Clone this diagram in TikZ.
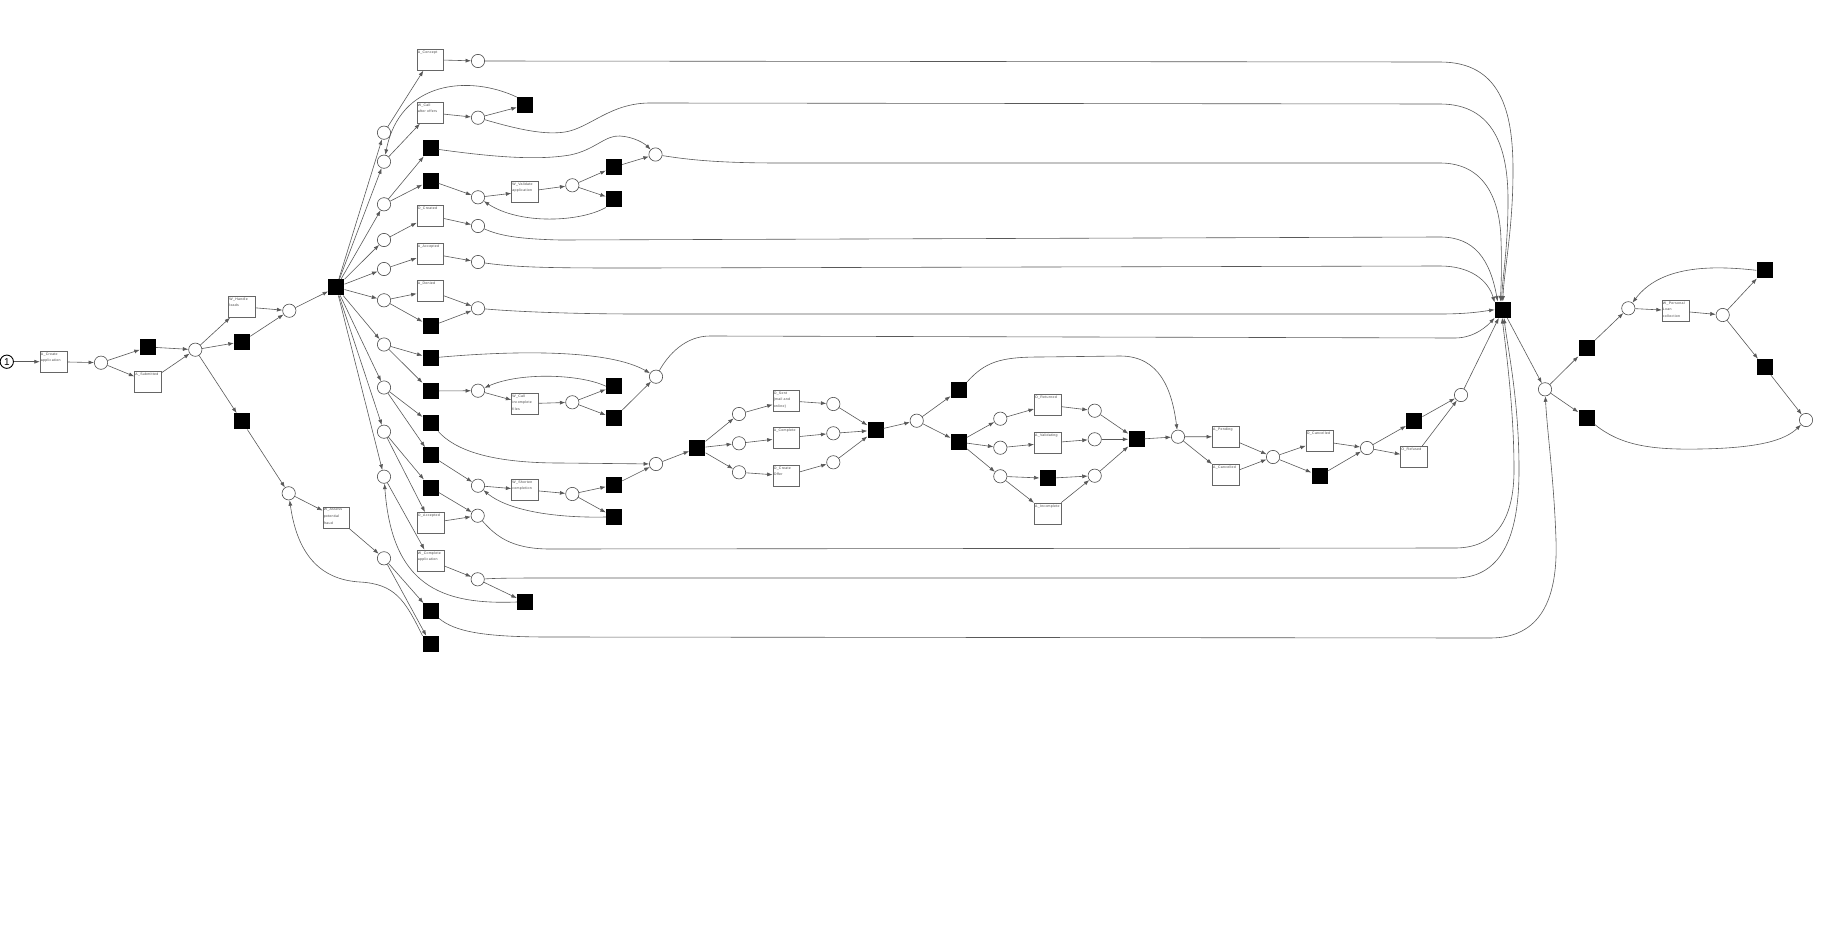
\documentclass[tikz,border=0pt]{standalone}
\usepackage{fontspec}
\newfontfamily\lblfam[LetterSpace=8]{Liberation Sans}
\newfontfamily\tokfam{Liberation Sans}
\newcommand\lblf{\lblfam\fontsize{3.5pt}{6.6pt}\selectfont}
\usetikzlibrary{arrows.meta}
\begin{document}
\begin{tikzpicture}[x=1pt,y=-1pt,
 pl/.style={circle,draw=black!70,line width=0.6pt,fill=white,minimum size=13.3pt,inner sep=0pt},
 bt/.style={rectangle,fill=black,minimum size=16pt,inner sep=0pt},
 trn/.style={rectangle,draw=black!60,line width=0.6pt,fill=white,minimum width=26.7pt,minimum height=21.3pt,inner sep=0pt,
   label={[anchor=north west,inner sep=0pt,xshift=0.9pt,yshift=-1.8pt,align=left,font=\lblf,text=black!75]north west:#1}},
 flow/.style={draw=black!65,line width=0.6pt,-{Latex[length=5.5pt,width=4pt]}}]
\useasboundingbox (0,0) rectangle (1834,926);
% ---------- left part
\node[pl,draw=black,line width=0.9pt] (p0) at (6.8,361.7) {\tokfam\fontsize{10pt}{10pt}\selectfont 1};
\node[trn={A\_Create\\application}] (tCreate) at (53.5,361.7) {};
\node[pl] (p1) at (101,362.7) {};
\node[bt] (b1) at (148,347) {};
\node[trn={A\_Submitted}] (tSub) at (148,382) {};
\node[pl] (p2) at (195.3,349.7) {};
\node[trn={W\_Handle\\leads}] (tHandle) at (242,306.7) {};
\node[bt] (b2) at (242,341.7) {};
\node[bt] (b3) at (242,421.3) {};
\node[pl] (p3) at (289.3,310.7) {};
\node[bt] (hub) at (336.3,287.3) {};
\node[pl] (pc1) at (384,132.7) {};
\node[pl] (pc2) at (384,161.7) {};
\node[pl] (pc3) at (384,204.3) {};
\node[pl] (pc4) at (384,240) {};
\node[pl] (pc5) at (384,269) {};
\node[pl] (pc6) at (384,300.3) {};
\node[pl] (pc7) at (384,344.5) {};
\node[pl] (pc8) at (384,387.5) {};
\node[pl] (pc9) at (384,431.7) {};
\node[pl] (pc10) at (384,476.7) {};
\node[pl] (pFraud) at (288.7,493.3) {};
\node[trn={W\_Assess\\potential\\fraud}] (tAssess) at (336.3,517.5) {};
\node[pl] (pA) at (384,558.3) {};
\node[bt] (bF1) at (430.7,611.3) {};
\node[bt] (bF2) at (430.7,644) {};
% column of branches
\node[trn={A\_Concept}] (tConcept) at (430.3,59.7) {};
\node[pl] (pConcept) at (478,61) {};
\node[trn={W\_Call\\after offers}] (tCallOff) at (430.3,112.7) {};
\node[pl] (pCallOff) at (478,117.7) {};
\node[bt] (bCallOff) at (525,105.3) {};
\node[bt] (bV1) at (430.5,148.3) {};
\node[bt] (bV2) at (430.5,180.5) {};
\node[pl] (pV1) at (478,197.3) {};
\node[trn={W\_Validate\\application}] (tValid) at (525,191.7) {};
\node[pl] (pV2) at (572.3,185.3) {};
\node[bt] (bV3) at (614,167) {};
\node[bt] (bV4) at (614,199.3) {};
\node[pl] (pV3) at (655.5,154.5) {};
\node[trn={O\_Created}] (tOCreated) at (430.3,215.5) {};
\node[pl] (pOCreated) at (478,226) {};
\node[trn={A\_Accepted}] (tAAcc) at (430.3,253.5) {};
\node[pl] (pAAcc) at (478,262) {};
\node[trn={A\_Denied}] (tDenied) at (430.3,290.8) {};
\node[bt] (bDenied) at (430.7,326.3) {};
\node[pl] (pDenied) at (478,308.3) {};
\node[bt] (bI1) at (430.7,358) {};
\node[bt] (bI2) at (430.7,391) {};
\node[pl] (pI1) at (478,390.7) {};
\node[trn={W\_Call\\incomplete\\files}] (tCallInc) at (525,403.7) {};
\node[pl] (pI2) at (572.3,402.3) {};
\node[bt] (bI3) at (614,386.2) {};
\node[bt] (bI4) at (614,418.2) {};
\node[pl] (pI3) at (656,376.7) {};
\node[bt] (bS1) at (430.7,423.2) {};
\node[bt] (bS2) at (430.7,455.4) {};
\node[pl] (pS1) at (478,485.7) {};
\node[trn={W\_Shorten\\completion}] (tShort) at (525,489.7) {};
\node[pl] (pS2) at (572.3,494) {};
\node[bt] (bS3) at (614,485) {};
\node[bt] (bS4) at (614,517) {};
\node[pl] (pS3) at (656,464) {};
\node[bt] (bOA) at (430.7,487.7) {};
\node[trn={O\_Accepted}] (tOAcc) at (430.5,523) {};
\node[pl] (pOAcc) at (477.7,515.7) {};
\node[trn={W\_Complete\\application}] (tWComp) at (430.5,560.5) {};
\node[pl] (pWComp) at (477.7,579.3) {};
\node[bt] (bWComp) at (525,602) {};
% ---------- middle part
\node[bt] (bM1) at (697.3,448) {};
\node[pl] (pM1) at (739,414) {};
\node[pl] (pM2) at (739,443.3) {};
\node[pl] (pM3) at (739,472.3) {};
\node[trn={O\_Sent\\(mail and\\online)}] (tSent) at (786.3,400.7) {};
\node[trn={A\_Complete}] (tAComp) at (786.3,437.8) {};
\node[trn={O\_Create\\Offer}] (tOffer) at (786.3,475.7) {};
\node[pl] (pM4) at (833.3,404) {};
\node[pl] (pM5) at (833.3,433.3) {};
\node[pl] (pM6) at (833.3,462.3) {};
\node[bt] (bM2) at (875.5,430.3) {};
\node[pl] (pM7) at (916.7,420.7) {};
\node[bt] (bM3) at (958.7,390.3) {};
\node[bt] (bM4) at (958.7,442) {};
\node[pl] (pN1) at (1000.3,418.7) {};
\node[pl] (pN2) at (1000.3,447.7) {};
\node[pl] (pN3) at (1000.3,476.3) {};
\node[trn={O\_Returned}] (tRet) at (1047.7,405) {};
\node[trn={A\_Validating}] (tValg) at (1047.7,443) {};
\node[bt] (bN1) at (1047.7,478.3) {};
\node[trn={A\_Incomplete}] (tInc) at (1047.7,513.5) {};
\node[pl] (pN4) at (1094.7,410.7) {};
\node[pl] (pN5) at (1094.7,439.3) {};
\node[pl] (pN6) at (1094.7,475.7) {};
\node[bt] (bN2) at (1136.5,439.3) {};
\node[pl] (pN7) at (1178,436.7) {};
\node[trn={A\_Pending}] (tPend) at (1225.7,436.8) {};
\node[trn={A\_Cancelled}] (tACan) at (1225.7,475) {};
\node[pl] (pN8) at (1273,457) {};
\node[trn={O\_Cancelled}] (tOCan) at (1319.5,441) {};
\node[bt] (bN3) at (1319.5,475.8) {};
\node[pl] (pN9) at (1367,448) {};
\node[bt] (bN4) at (1414.2,421.3) {};
\node[trn={O\_Refused}] (tRef) at (1414,456.8) {};
\node[pl] (pN10) at (1461,395) {};
% ---------- right part
\node[bt] (hub2) at (1502.8,309.7) {};
\node[pl] (pR1) at (1545,389.3) {};
\node[bt] (bR1) at (1586.5,348.3) {};
\node[bt] (bR2) at (1586.5,417.8) {};
\node[pl] (pR2) at (1628.3,308.3) {};
\node[trn={W\_Personal\\Loan\\collection}] (tPers) at (1675.5,310.7) {};
\node[pl] (pR3) at (1722.7,315) {};
\node[bt] (bR3) at (1764.5,270.3) {};
\node[bt] (bR4) at (1764.5,367) {};
\node[pl] (pEnd) at (1806,420) {};
% ---------- connectors, left
\draw[flow] (p0) -- (tCreate);
\draw[flow] (tCreate) -- (p1);
\draw[flow] (p1) -- (b1);
\draw[flow] (p1) -- (tSub);
\draw[flow] (b1) -- (p2);
\draw[flow] (tSub) -- (p2);
\draw[flow] (p2) -- (tHandle);
\draw[flow] (p2) -- (b2);
\draw[flow] (p2) -- (b3);
\draw[flow] (tHandle) -- (p3);
\draw[flow] (b2) -- (p3);
\draw[flow] (p3) -- (hub);
\draw[flow] (b3) -- (pFraud);
\draw[flow] (pFraud) -- (tAssess);
\draw[flow] (tAssess) -- (pA);
\draw[flow] (pA) -- (bF1);
\draw[flow] (pA) -- (bF2);
\foreach \i in {1,...,10} \draw[flow] (hub) -- (pc\i);
\draw[flow] (pc1) -- (tConcept);
\draw[flow] (tConcept) -- (pConcept);
\draw[flow] (pc2) -- (tCallOff);
\draw[flow] (tCallOff) -- (pCallOff);
\draw[flow] (pCallOff) -- (bCallOff);
\draw[flow] (bCallOff.north west) .. controls (470,75) and (400,80) .. (pc2);
\draw[flow] (pc3) -- (bV1);
\draw[flow] (pc3) -- (bV2);
\draw[flow] (bV2) -- (pV1);
\draw[flow] (pV1) -- (tValid);
\draw[flow] (tValid) -- (pV2);
\draw[flow] (pV2) -- (bV3);
\draw[flow] (pV2) -- (bV4);
\draw[flow] (bV4.south west) .. controls (580,222) and (520,225) .. (pV1);
\draw[flow] (bV3) -- (pV3);
\draw[flow] (bV1) .. controls (500,158) and (540,160) .. (570,155) .. controls (595,150) and (605,135) .. (620,136) .. controls (635,137) and (645,144) .. (pV3);
\draw[flow] (pc4) -- (tOCreated);
\draw[flow] (tOCreated) -- (pOCreated);
\draw[flow] (pc5) -- (tAAcc);
\draw[flow] (tAAcc) -- (pAAcc);
\draw[flow] (pc6) -- (tDenied);
\draw[flow] (pc6) -- (bDenied);
\draw[flow] (tDenied) -- (pDenied);
\draw[flow] (bDenied) -- (pDenied);
\draw[flow] (pc7) -- (bI1);
\draw[flow] (pc7) -- (bI2);
\draw[flow] (bI2) -- (pI1);
\draw[flow] (pI1) -- (tCallInc);
\draw[flow] (tCallInc) -- (pI2);
\draw[flow] (pI2) -- (bI3);
\draw[flow] (pI2) -- (bI4);
\draw[flow] (bI3.west) .. controls (580,374) and (520,372) .. (pI1);
\draw[flow] (bI4) -- (pI3);
\draw[flow] (bI1) .. controls (520,350) and (610,350) .. (pI3);
\draw[flow] (pc8) -- (bS1);
\draw[flow] (pc8) -- (bS2);
\draw[flow] (bS2) -- (pS1);
\draw[flow] (pS1) -- (tShort);
\draw[flow] (tShort) -- (pS2);
\draw[flow] (pS2) -- (bS3);
\draw[flow] (pS2) -- (bS4);
\draw[flow] (bS4.west) .. controls (560,518) and (510,512) .. (pS1);
\draw[flow] (bS3) -- (pS3);
\draw[flow] (bS1) .. controls (455,450) and (490,463) .. (560,463) -- (pS3);
\draw[flow] (pc9) -- (bOA);
\draw[flow] (pc9) -- (tOAcc);
\draw[flow] (bOA) -- (pOAcc);
\draw[flow] (tOAcc) -- (pOAcc);
\draw[flow] (pc10) -- (tWComp);
\draw[flow] (tWComp) -- (pWComp);
\draw[flow] (pWComp) -- (bWComp);
\draw[flow] (bWComp.west) .. controls (440,605) and (392,585) .. (pc10);
\draw[flow] (bF2.north west) .. controls (405,600) and (395,584) .. (360,582) .. controls (325,580) and (298,560) .. (pFraud);
\draw[flow] (bF1) .. controls (455,632) and (485,637) .. (550,637) -- (1490,638) .. controls (1540,638) and (1558,600) .. (1556,540) .. controls (1554,480) and (1547,430) .. (pR1);
% ---------- to hub2
\draw[flow] (pConcept) -- (1440,62) .. controls (1500,62) and (1513,110) .. (1513,170) .. controls (1513,230) and (1504,270) .. (hub2.north);
\draw[flow] (pCallOff) .. controls (520,130) and (545,135) .. (565,132) .. controls (590,128) and (610,103) .. (650,103) -- (1440,104) .. controls (1495,104) and (1508,150) .. (1508,200) .. controls (1508,250) and (1502,280) .. (hub2.97);
\draw[flow] (pV3) .. controls (690,160) and (720,163) .. (780,163) -- (1440,163) .. controls (1485,163) and (1500,200) .. (1501,240) .. controls (1502,270) and (1501,285) .. (hub2.106);
\draw[flow] (pOCreated) .. controls (500,236) and (520,239) .. (560,240) -- (1440,237) .. controls (1475,237) and (1490,260) .. (hub2.122);
\draw[flow] (pAAcc) .. controls (520,268) and (560,268) .. (640,268) -- (1440,266) .. controls (1470,266) and (1488,280) .. (hub2.138);
\draw[flow] (pDenied) .. controls (520,312) and (580,314) .. (640,314) -- (1440,314) .. controls (1470,314) and (1485,311) .. (hub2.west);
\draw[flow] (pI3) .. controls (668,355) and (685,336) .. (710,336) -- (1455,338) .. controls (1475,338) and (1488,325) .. (hub2.south west);
\draw[flow] (pOAcc) .. controls (495,535) and (510,549) .. (550,549) -- (1455,548) .. controls (1495,548) and (1514,520) .. (1514,470) .. controls (1514,410) and (1506,350) .. (hub2.-95);
\draw[flow] (pWComp) .. controls (500,578) and (520,578) .. (560,578) -- (1455,578) .. controls (1505,578) and (1519,530) .. (1519,470) .. controls (1519,400) and (1508,350) .. (hub2.-82);
% ---------- middle connectors
\draw[flow] (pS3) -- (bM1);
\draw[flow] (bM1) -- (pM1);
\draw[flow] (bM1) -- (pM2);
\draw[flow] (bM1) -- (pM3);
\draw[flow] (pM1) -- (tSent);
\draw[flow] (pM2) -- (tAComp);
\draw[flow] (pM3) -- (tOffer);
\draw[flow] (tSent) -- (pM4);
\draw[flow] (tAComp) -- (pM5);
\draw[flow] (tOffer) -- (pM6);
\draw[flow] (pM4) -- (bM2);
\draw[flow] (pM5) -- (bM2);
\draw[flow] (pM6) -- (bM2);
\draw[flow] (bM2) -- (pM7);
\draw[flow] (pM7) -- (bM3);
\draw[flow] (pM7) -- (bM4);
\draw[flow] (bM3.north east) .. controls (985,362) and (1000,357) .. (1040,357) -- (1120,356) .. controls (1160,356) and (1172,390) .. (pN7);
\draw[flow] (bM4) -- (pN1);
\draw[flow] (bM4) -- (pN2);
\draw[flow] (bM4) -- (pN3);
\draw[flow] (pN1) -- (tRet);
\draw[flow] (pN2) -- (tValg);
\draw[flow] (pN3) -- (bN1);
\draw[flow] (pN3) -- (tInc);
\draw[flow] (tRet) -- (pN4);
\draw[flow] (tValg) -- (pN5);
\draw[flow] (bN1) -- (pN6);
\draw[flow] (tInc) -- (pN6);
\draw[flow] (pN4) -- (bN2);
\draw[flow] (pN5) -- (bN2);
\draw[flow] (pN6) -- (bN2);
\draw[flow] (bN2) -- (pN7);
\draw[flow] (pN7) -- (tPend);
\draw[flow] (pN7) -- (tACan);
\draw[flow] (tPend) -- (pN8);
\draw[flow] (tACan) -- (pN8);
\draw[flow] (pN8) -- (tOCan);
\draw[flow] (pN8) -- (bN3);
\draw[flow] (tOCan) -- (pN9);
\draw[flow] (bN3) -- (pN9);
\draw[flow] (pN9) -- (bN4);
\draw[flow] (pN9) -- (tRef);
\draw[flow] (bN4) -- (pN10);
\draw[flow] (tRef) -- (pN10);
\draw[flow] (pN10) -- (hub2);
% ---------- right connectors
\draw[flow] (hub2) -- (pR1);
\draw[flow] (pR1) -- (bR1);
\draw[flow] (pR1) -- (bR2);
\draw[flow] (bR1) -- (pR2);
\draw[flow] (pR2) -- (tPers);
\draw[flow] (tPers) -- (pR3);
\draw[flow] (pR3) -- (bR3);
\draw[flow] (pR3) -- (bR4);
\draw[flow] (bR3.west) .. controls (1710,265) and (1660,266) .. (pR2);
\draw[flow] (bR4) -- (pEnd);
\draw[flow] (bR2) .. controls (1620,445) and (1650,450) .. (1700,449) .. controls (1760,448) and (1785,440) .. (pEnd);
\end{tikzpicture}
\end{document}
